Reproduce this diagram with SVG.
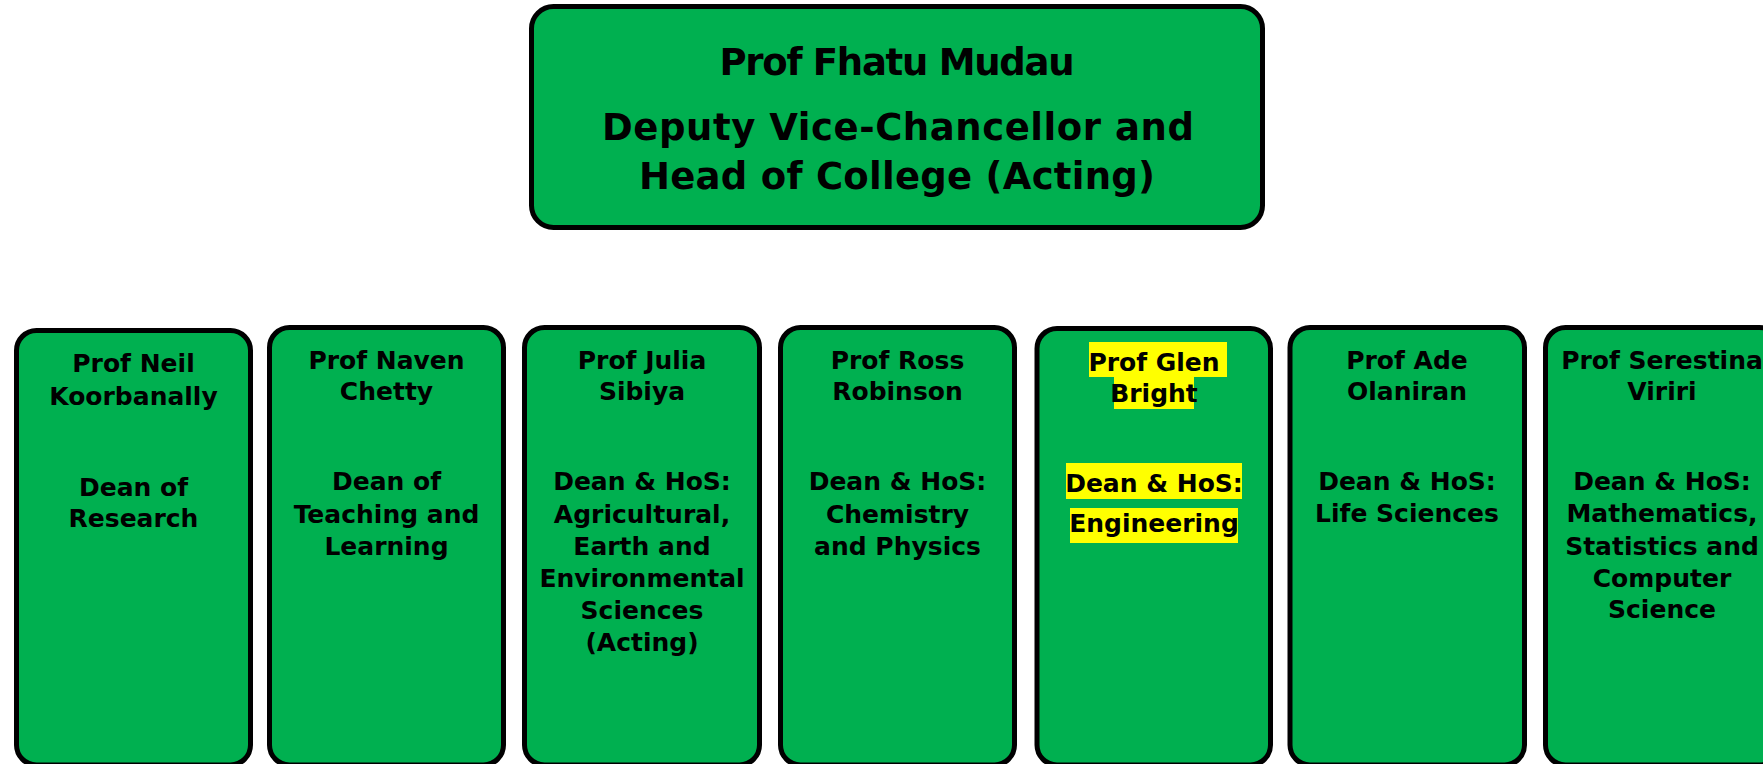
<svg xmlns="http://www.w3.org/2000/svg" width="1763" height="764" viewBox="0 0 1763 764">
<style>
.box{fill:#00B050;stroke:#000;stroke-width:5}
.t{font-family:"DejaVu Sans","Liberation Sans",sans-serif;font-weight:bold;fill:#000;text-anchor:middle}
.big{font-size:37px}
.sm{font-size:25px}
.hl{fill:#FFFF00}
</style>
<rect width="1763" height="764" fill="#fff"/>
<g id="connectors"/>
<g id="head">
<rect class="box" x="531.5" y="6.5" width="731" height="221" rx="22"/>
<text class="t big" x="897" y="75" textLength="355">Prof Fhatu Mudau</text>
<text class="t big" x="898" y="140" textLength="592">Deputy Vice-Chancellor and</text>
<text class="t big" x="897" y="189" textLength="516">Head of College (Acting)</text>
</g>
<g id="neil">
<rect class="box" x="16.5" y="330.5" width="234" height="434.5" rx="20"/>
<text class="t sm" x="133.5" y="372">Prof Neil</text>
<text class="t sm" x="133.5" y="405">Koorbanally</text>
<text class="t sm" x="133.5" y="496">Dean of</text>
<text class="t sm" x="133.5" y="527">Research</text>
</g>
<g id="naven">
<rect class="box" x="269.5" y="327.5" width="234" height="437.5" rx="20"/>
<text class="t sm" x="386.5" y="369">Prof Naven</text>
<text class="t sm" x="386.5" y="400">Chetty</text>
<text class="t sm" x="386.5" y="490">Dean of</text>
<text class="t sm" x="386.5" y="523">Teaching and</text>
<text class="t sm" x="386.5" y="555">Learning</text>
</g>
<g id="julia">
<rect class="box" x="524.5" y="327.5" width="235" height="437.5" rx="20"/>
<text class="t sm" x="642" y="369">Prof Julia</text>
<text class="t sm" x="642" y="400">Sibiya</text>
<text class="t sm" x="642" y="490">Dean &amp; HoS:</text>
<text class="t sm" x="642" y="523">Agricultural,</text>
<text class="t sm" x="642" y="555">Earth and</text>
<text class="t sm" x="642" y="587">Environmental</text>
<text class="t sm" x="642" y="619">Sciences</text>
<text class="t sm" x="642" y="651">(Acting)</text>
</g>
<g id="ross">
<rect class="box" x="780.5" y="327.5" width="234" height="437.5" rx="20"/>
<text class="t sm" x="897.5" y="369">Prof Ross</text>
<text class="t sm" x="897.5" y="400">Robinson</text>
<text class="t sm" x="897.5" y="490">Dean &amp; HoS:</text>
<text class="t sm" x="897.5" y="523">Chemistry</text>
<text class="t sm" x="897.5" y="555">and Physics</text>
</g>
<g id="glen">
<rect class="box" x="1037" y="328.5" width="233.5" height="436.5" rx="20"/>
<rect class="hl" x="1089" y="342" width="138" height="35"/>
<rect class="hl" x="1114" y="377" width="80" height="32"/>
<rect class="hl" x="1066" y="463" width="176" height="36"/>
<rect class="hl" x="1070" y="508" width="168" height="35"/>
<text class="t sm" x="1154" y="371">Prof Glen</text>
<text class="t sm" x="1154" y="402">Bright</text>
<text class="t sm" x="1154" y="492">Dean &amp; HoS:</text>
<text class="t sm" x="1154" y="532">Engineering</text>
</g>
<g id="ade">
<rect class="box" x="1290" y="327.5" width="234.5" height="437.5" rx="20"/>
<text class="t sm" x="1407" y="369">Prof Ade</text>
<text class="t sm" x="1407" y="400">Olaniran</text>
<text class="t sm" x="1407" y="490">Dean &amp; HoS:</text>
<text class="t sm" x="1407" y="522">Life Sciences</text>
</g>
<g id="serestina">
<rect class="box" x="1545.5" y="327.5" width="234" height="437.5" rx="20"/>
<text class="t sm" x="1662" y="369">Prof Serestina</text>
<text class="t sm" x="1662" y="400">Viriri</text>
<text class="t sm" x="1662" y="490">Dean &amp; HoS:</text>
<text class="t sm" x="1662" y="522">Mathematics,</text>
<text class="t sm" x="1662" y="555">Statistics and</text>
<text class="t sm" x="1662" y="587">Computer</text>
<text class="t sm" x="1662" y="618">Science</text>
</g>
</svg>
